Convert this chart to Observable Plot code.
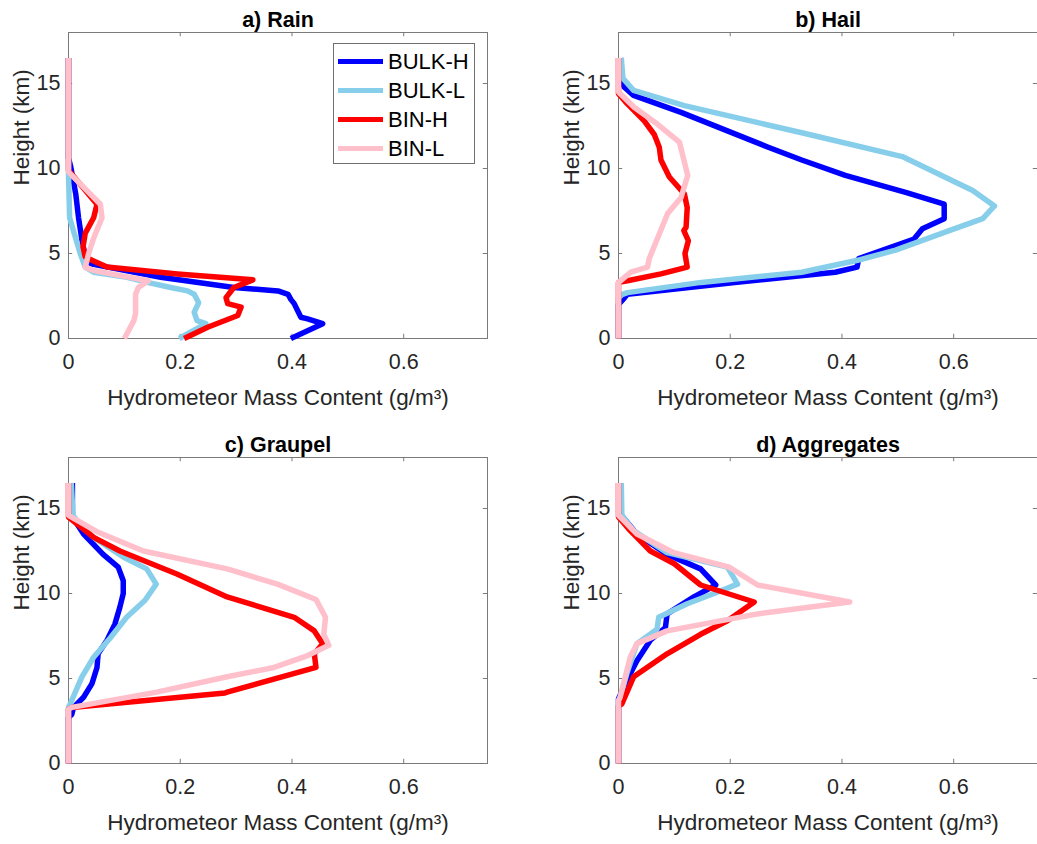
<!DOCTYPE html>
<html>
<head>
<meta charset="utf-8">
<script src="https://cdn.jsdelivr.net/npm/d3@7"></script>
<script src="https://cdn.jsdelivr.net/npm/@observablehq/plot@0.6"></script>
<style>
  body { margin: 0; background: #fff; }
  #wrap { position: relative; width: 1037px; height: 844px; background: #fff; font-family: "Liberation Sans", Arial, sans-serif; color: #262626; }
  .panel { position: absolute; }
  #legend { position: absolute; left: 333px; top: 43px; width: 140px; height: 119px; border: 1px solid #707070; background: #fff; }
  .entry { position: absolute; left: 0; height: 29px; display: flex; align-items: center; font-size: 22px; }
  .swatch { width: 45px; height: 5.5px; margin-left: 4px; margin-right: 5px; }
</style>
</head>
<body>
<div id="wrap"></div>
<script>
// series names and colours
const seriesNames = ["BULK-H", "BULK-L", "BIN-H", "BIN-L"];
const seriesColors = ["#0000ff", "#87ceeb", "#ff0000", "#ffc0cb"];
const xTicks = [0, 0.2, 0.4, 0.6];
const yTicks = [0, 5, 10, 15];
const panelTitles = ["a) Rain", "b) Hail", "c) Graupel", "d) Aggregates"];
const xLabel = "Hydrometeor Mass Content (g/m³)";
const yLabel = "Height (km)";

// [height km, mass content g/m3]
const rainBulkH = [[16.5,0],[10.6,0],[10.1,0.004],[8.5,0.013],[7.1,0.018],[5.8,0.024],[4.8,0.03],[4.4,0.04],[4.2,0.07],[3.6,0.165],[3.0,0.296],[2.8,0.375],[2.6,0.393],[2.3,0.398],[2.05,0.404],[1.65,0.41],[1.25,0.416],[1.15,0.428],[0.87,0.455],[0,0.398]];
const rainBulkL = [[16.5,0],[9.7,0],[7.1,0.002],[6.2,0.01],[5.0,0.021],[4.2,0.03],[3.9,0.045],[3.6,0.105],[3.3,0.141],[3.0,0.183],[2.8,0.213],[2.6,0.225],[2.1,0.233],[1.55,0.225],[1.05,0.23],[0.87,0.246],[0,0.198]];
const rainBinH = [[16.5,0],[9.9,0],[7.9,0.051],[7.1,0.045],[6.2,0.03],[5.4,0.026],[4.8,0.03],[4.6,0.042],[4.2,0.069],[3.8,0.195],[3.45,0.33],[3.0,0.296],[2.4,0.282],[2.05,0.285],[1.85,0.309],[1.35,0.303],[0.66,0.249],[0,0.207]];
const rainBinL = [[16.5,0],[9.8,0],[7.9,0.057],[7.1,0.06],[5.9,0.045],[5.0,0.036],[4.2,0.03],[4.0,0.045],[3.7,0.093],[3.4,0.143],[3.0,0.125],[2.6,0.12],[1.45,0.12],[1.05,0.117],[0,0.1]];

const hailBulkH = [[16.5,0.004],[15.2,0.006],[14.8,0.01],[14.3,0.027],[13.3,0.112],[12.2,0.196],[11.25,0.268],[10.5,0.328],[9.6,0.406],[8.6,0.514],[7.9,0.583],[7.05,0.583],[6.45,0.544],[5.85,0.529],[4.7,0.43],[4.2,0.427],[3.9,0.388],[3.3,0.208],[2.6,0.016],[2.25,0.007],[2.0,0],[0,0]];
const hailBulkL = [[16.5,0.005],[15.3,0.008],[14.6,0.027],[13.7,0.118],[12.1,0.328],[10.7,0.508],[8.7,0.634],[7.8,0.673],[7.05,0.652],[6.35,0.592],[5.2,0.496],[4.6,0.428],[3.9,0.328],[3.3,0.148],[2.7,0.016],[2.6,0.007],[2.4,0],[0,0]];
const hailBinH = [[16.5,0],[14.4,0],[13.8,0.016],[12.8,0.046],[12.0,0.064],[11.25,0.073],[10.5,0.076],[9.5,0.091],[8.5,0.118],[7.7,0.123],[6.55,0.121],[6.35,0.117],[5.75,0.125],[5.0,0.119],[4.2,0.123],[3.8,0.076],[3.4,0.016],[3.3,0],[0,0]];
const hailBinL = [[16.5,0],[14.5,0],[13.6,0.028],[12.6,0.07],[11.55,0.109],[9.6,0.124],[8.3,0.112],[7.35,0.088],[4.7,0.055],[4.2,0.052],[3.9,0.022],[3.4,0.004],[3.3,0],[0,0]];

const graupelBulkH = [[16.5,0.007],[14.5,0.007],[13.5,0.027],[12.3,0.062],[11.55,0.089],[10.75,0.098],[10.0,0.098],[9.2,0.092],[8.2,0.083],[7.25,0.069],[6.45,0.053],[5.65,0.051],[4.7,0.042],[3.9,0.027],[3.3,0.009],[2.9,0.006],[2.7,0],[0,0]];
const graupelBulkL = [[16.5,0.005],[14.6,0.008],[14.3,0.015],[13.3,0.045],[12.15,0.098],[11.45,0.14],[10.55,0.157],[9.6,0.137],[8.6,0.104],[7.4,0.075],[6.25,0.045],[5.1,0.024],[3.5,0.003],[3.3,0],[0,0]];
const graupelBinH = [[16.5,0],[14.5,0],[13.3,0.045],[12.5,0.092],[11.15,0.194],[9.8,0.284],[9.2,0.344],[8.6,0.404],[7.8,0.44],[7.05,0.455],[6.45,0.44],[5.65,0.443],[4.2,0.284],[4.15,0.28],[3.3,0.006],[3.2,0],[0,0]];
const graupelBinL = [[16.5,0],[14.6,0],[13.65,0.05],[12.5,0.134],[11.45,0.284],[10.55,0.374],[9.65,0.443],[8.6,0.46],[7.6,0.457],[6.95,0.466],[6.35,0.428],[5.65,0.368],[5.1,0.284],[4.2,0.158],[3.3,0.006],[3.2,0],[0,0]];

const aggBulkH = [[16.5,0.004],[14.6,0.005],[13.5,0.033],[12.3,0.087],[11.45,0.147],[10.5,0.174],[9.8,0.135],[8.8,0.087],[8.0,0.084],[7.25,0.057],[6.05,0.033],[4.9,0.015],[3.8,0],[0,0]];
const aggBulkL = [[16.5,0.005],[14.6,0.006],[13.7,0.027],[12.4,0.087],[11.55,0.195],[10.55,0.213],[10.0,0.171],[9.4,0.123],[8.6,0.072],[7.9,0.069],[7.05,0.033],[5.3,0.015],[3.9,0.003],[3.7,0],[0,0]];
const aggBinH = [[16.5,0],[14.5,0],[13.7,0.021],[12.5,0.057],[11.75,0.1],[10.5,0.147],[9.5,0.243],[8.4,0.195],[7.6,0.147],[6.45,0.087],[5.1,0.027],[3.5,0.006],[3.4,0],[0,0]];
const aggBinL = [[16.5,0],[14.6,0],[13.5,0.033],[12.4,0.099],[11.55,0.198],[10.5,0.249],[9.5,0.414],[8.8,0.249],[7.8,0.087],[7.05,0.033],[6.25,0.021],[3.9,0.003],[3.7,0],[0,0]];

const panelSeries = [
  [rainBulkH, rainBulkL, rainBinH, rainBinL],
  [hailBulkH, hailBulkL, hailBinH, hailBinL],
  [graupelBulkH, graupelBulkL, graupelBinH, graupelBinL],
  [aggBulkH, aggBulkL, aggBinH, aggBinL]
];

const panelPos = [[0, 0], [550, 0], [0, 425], [550, 425]];
const wrap = document.getElementById("wrap");
const axisColor = "#7a7a7a";
const font = "'Liberation Sans', Arial, sans-serif";

panelSeries.forEach((series, p) => {
  const rows = [];
  series.forEach((arr, s) => arr.forEach(([h, v]) => rows.push({series: seriesNames[s], h, v})));
  const lineMarks = seriesNames.map((name, s) =>
    Plot.line(rows.filter(d => d.series === name), {x: "v", y: "h", stroke: seriesColors[s], strokeWidth: 5.5, strokeLinejoin: "round", strokeLinecap: "butt"})
  );
  const chart = Plot.plot({
    width: 518, height: 420,
    marginLeft: 68, marginTop: 32, marginRight: 31, marginBottom: 82,
    style: {fontFamily: font, fontSize: "21px", color: "#262626", background: "transparent", overflow: "visible"},
    x: {domain: [0, 0.75]},
    y: {domain: [0, 18]},
    marks: [
      Plot.frame({stroke: axisColor, strokeWidth: 1}),
      Plot.ruleX(xTicks, {x: d => d, y1: 0, y2: 0.25, stroke: axisColor}),
      Plot.ruleX(xTicks, {x: d => d, y1: 18, y2: 17.75, stroke: axisColor}),
      Plot.ruleY(yTicks, {y: d => d, x1: 0, x2: 0.0075, stroke: axisColor}),
      Plot.ruleY(yTicks, {y: d => d, x1: 0.75, x2: 0.7425, stroke: axisColor}),
      Plot.axisX(xTicks, {tickSize: 0, tickPadding: 15, fontSize: 21.5, fill: "#262626", tickFormat: d => String(d), label: null}),
      Plot.axisY(yTicks, {tickSize: 0, tickPadding: 8, fontSize: 21.5, fill: "#262626", tickFormat: d => String(d), label: null}),
      Plot.text([xLabel], {frameAnchor: "bottom", dy: 59, fontSize: 22.5, fill: "#262626", lineAnchor: "middle"}),
      Plot.text([yLabel], {frameAnchor: "left", dx: -47, rotate: -90, fontSize: 22.5, fill: "#262626", lineAnchor: "middle"}),
      ...lineMarks,
      Plot.text([panelTitles[p]], {frameAnchor: "top", dy: -12.5, fontWeight: "bold", fontSize: 21.5, fill: "#000", lineAnchor: "middle"})
    ]
  });
  chart.classList.add("panel");
  chart.style.left = panelPos[p][0] + "px";
  chart.style.top = panelPos[p][1] + "px";
  wrap.appendChild(chart);
});

// legend (panel a)
const legend = document.createElement("div");
legend.id = "legend";
seriesNames.forEach((name, i) => {
  const e = document.createElement("div");
  e.className = "entry";
  e.style.top = (3 + i * 29) + "px";
  const sw = document.createElement("div");
  sw.className = "swatch";
  sw.style.background = seriesColors[i];
  const t = document.createElement("span");
  t.textContent = name;
  t.style.color = "#000";
  e.appendChild(sw); e.appendChild(t);
  legend.appendChild(e);
});
wrap.appendChild(legend);
</script>
</body>
</html>
